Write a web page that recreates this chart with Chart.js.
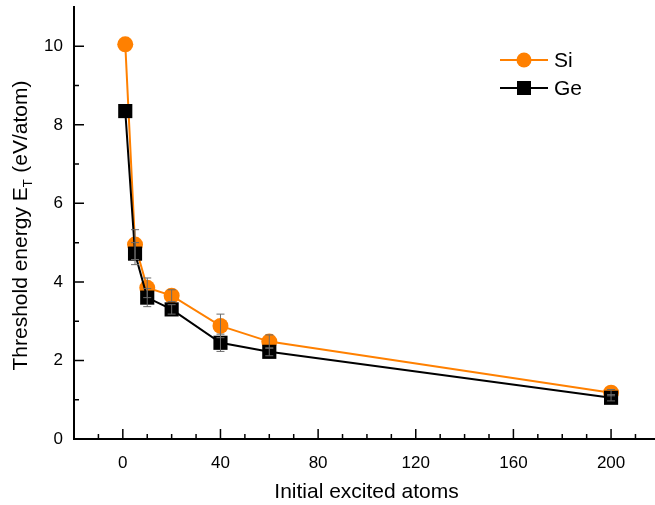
<!DOCTYPE html>
<html>
<head>
<meta charset="utf-8">
<style>
  html, body { margin: 0; padding: 0; background: #fff; overflow: hidden; }
  #wrap { width: 655px; height: 505px; }
</style>
<script src="https://cdn.jsdelivr.net/npm/chart.js@4/dist/chart.umd.min.js"></script>
</head>
<body>
<div id="wrap"><canvas id="chart"></canvas></div>
<script>
// data
const atoms = [1, 5, 10, 20, 40, 60, 200];
const siEnergy = [10.05, 4.95, 3.85, 3.65, 2.88, 2.48, 1.18];
const geEnergy = [8.35, 4.72, 3.6, 3.3, 2.45, 2.22, 1.05];
const siError = [0, 0.38, 0.25, 0.15, 0.3, 0.17, 0.08];
const geError = [0, 0.28, 0.23, 0.12, 0.22, 0.1, 0.08];

const xTicks = [0, 40, 80, 120, 160, 200];
const xMinorTicks = [-10, 10, 20, 30, 50, 60, 70, 90, 100, 110, 130, 140, 150, 170, 180, 190, 210];
const yTicks = [0, 2, 4, 6, 8, 10];
const yMinorTicks = [1, 3, 5, 7, 9];

const ORANGE = "#ff8000";
const FONT = "'Liberation Sans', Arial, sans-serif";

// chart.js pads scales for their end labels; the reference axes sit flush
function noPadding(s) {
  s.paddingTop = 0; s.paddingBottom = 0; s.paddingLeft = 0; s.paddingRight = 0;
}

// inward tick marks, Origin style (major + minor)
const tickMarks = {
  id: "tickMarks",
  afterDraw(chart) {
    const { ctx, chartArea: a, scales: { x, y } } = chart;
    ctx.save();
    ctx.strokeStyle = "#000";
    ctx.lineWidth = 1.5;
    ctx.beginPath();
    xTicks.forEach((v) => { const px = x.getPixelForValue(v); ctx.moveTo(px, a.bottom); ctx.lineTo(px, a.bottom - 10); });
    xMinorTicks.forEach((v) => { const px = x.getPixelForValue(v); ctx.moveTo(px, a.bottom); ctx.lineTo(px, a.bottom - 5); });
    yTicks.forEach((v) => { const py = y.getPixelForValue(v); ctx.moveTo(a.left, py); ctx.lineTo(a.left + 10, py); });
    yMinorTicks.forEach((v) => { const py = y.getPixelForValue(v); ctx.moveTo(a.left, py); ctx.lineTo(a.left + 5, py); });
    ctx.stroke();
    ctx.restore();
  },
};

// vertical error bars with caps
const errorBars = {
  id: "errorBars",
  afterDatasetsDraw(chart) {
    const { ctx, scales: { y } } = chart;
    const errs = [siError, geError];
    ctx.save();
    ctx.strokeStyle = "#6a6a6a";
    ctx.lineWidth = 1;
    chart.data.datasets.forEach((ds, i) => {
      chart.getDatasetMeta(i).data.forEach((pt, j) => {
        const e = errs[i][j];
        if (!e) return;
        const top = y.getPixelForValue(ds.data[j].y + e);
        const bot = y.getPixelForValue(ds.data[j].y - e);
        ctx.beginPath();
        ctx.moveTo(pt.x, top); ctx.lineTo(pt.x, bot);
        ctx.moveTo(pt.x - 4, top); ctx.lineTo(pt.x + 4, top);
        ctx.moveTo(pt.x - 4, bot); ctx.lineTo(pt.x + 4, bot);
        ctx.stroke();
      });
    });
    ctx.restore();
  },
};

// axis titles (y title needs a subscript) and line+marker legend
const titlesAndLegend = {
  id: "titlesAndLegend",
  afterDraw(chart) {
    const { ctx, chartArea: a } = chart;
    ctx.save();
    ctx.fillStyle = "#000";
    ctx.textBaseline = "middle";

    ctx.font = `21px ${FONT}`;
    ctx.textAlign = "center";
    ctx.fillText("Initial excited atoms", (a.left + a.right) / 2 + 2, 492);

    // rotated y title: "Threshold energy E" + sub "T" + " (eV/atom)"
    const p1 = "Threshold energy E", sub = "T", p2 = "  (eV/atom)";
    ctx.translate(21, (a.top + a.bottom) / 2);
    ctx.rotate(-Math.PI / 2);
    ctx.textAlign = "left";
    ctx.font = `21px ${FONT}`;
    const w1 = ctx.measureText(p1).width, w3 = ctx.measureText(p2).width;
    ctx.font = `13px ${FONT}`;
    const w2 = ctx.measureText(sub).width;
    const sx = -(w1 + w2 + w3) / 2;
    ctx.font = `21px ${FONT}`;
    ctx.fillText(p1, sx, 0);
    ctx.font = `13px ${FONT}`;
    ctx.fillText(sub, sx + w1, 7);
    ctx.font = `21px ${FONT}`;
    ctx.fillText(p2, sx + w1 + w2 - 5, 0);
    ctx.restore();

    // legend
    ctx.save();
    ctx.textBaseline = "middle";
    ctx.font = `21px ${FONT}`;
    chart.data.datasets.forEach((ds, i) => {
      const ly = 60 + i * 28;
      ctx.strokeStyle = ds.borderColor;
      ctx.lineWidth = 1.8;
      ctx.beginPath(); ctx.moveTo(500, ly); ctx.lineTo(548, ly); ctx.stroke();
      ctx.fillStyle = ds.backgroundColor;
      if (ds.pointStyle === "circle") {
        ctx.beginPath(); ctx.arc(524, ly, 7.5, 0, Math.PI * 2); ctx.fill();
      } else {
        ctx.fillRect(517, ly - 7, 14, 14);
      }
      ctx.fillStyle = "#000";
      ctx.fillText(ds.label, 554, ly + 1);
    });
    ctx.restore();
  },
};

new Chart(document.getElementById("chart"), {
  type: "line",
  data: {
    datasets: [
      {
        label: "Si", data: atoms.map((a, i) => ({ x: a, y: siEnergy[i] })),
        borderColor: ORANGE, backgroundColor: ORANGE, borderWidth: 2,
        pointStyle: "circle", pointRadius: 8, pointBorderWidth: 0, order: 1,
      },
      {
        label: "Ge", data: atoms.map((a, i) => ({ x: a, y: geEnergy[i] })),
        borderColor: "#000", backgroundColor: "#000", borderWidth: 2,
        pointStyle: "rect", pointRadius: 10, pointBorderWidth: 0, order: 0,
      },
    ],
  },
  options: {
    responsive: true, maintainAspectRatio: false, animation: false,
    layout: { autoPadding: false, padding: { top: 7, right: 0, left: 0, bottom: 0 } },
    plugins: { legend: { display: false }, tooltip: { enabled: false } },
    scales: {
      x: {
        type: "linear", min: -20, max: 218,
        afterBuildTicks: (s) => { s.ticks = xTicks.map((v) => ({ value: v })); },
        afterFit: (s) => { s.height = 66; noPadding(s); },
        grid: { display: false, drawTicks: false },
        border: { color: "#000", width: 2 },
        ticks: { color: "#000", padding: 14, maxRotation: 0, font: { family: FONT, size: 17 } },
      },
      y: {
        type: "linear", min: 0, max: 11,
        afterBuildTicks: (s) => { s.ticks = yTicks.map((v) => ({ value: v })); },
        afterFit: (s) => { s.width = 74; noPadding(s); },
        grid: { display: false, drawTicks: false },
        border: { color: "#000", width: 2 },
        ticks: { color: "#000", padding: 11, font: { family: FONT, size: 17 } },
      },
    },
  },
  plugins: [errorBars, tickMarks, titlesAndLegend],
});
</script>
</body>
</html>
